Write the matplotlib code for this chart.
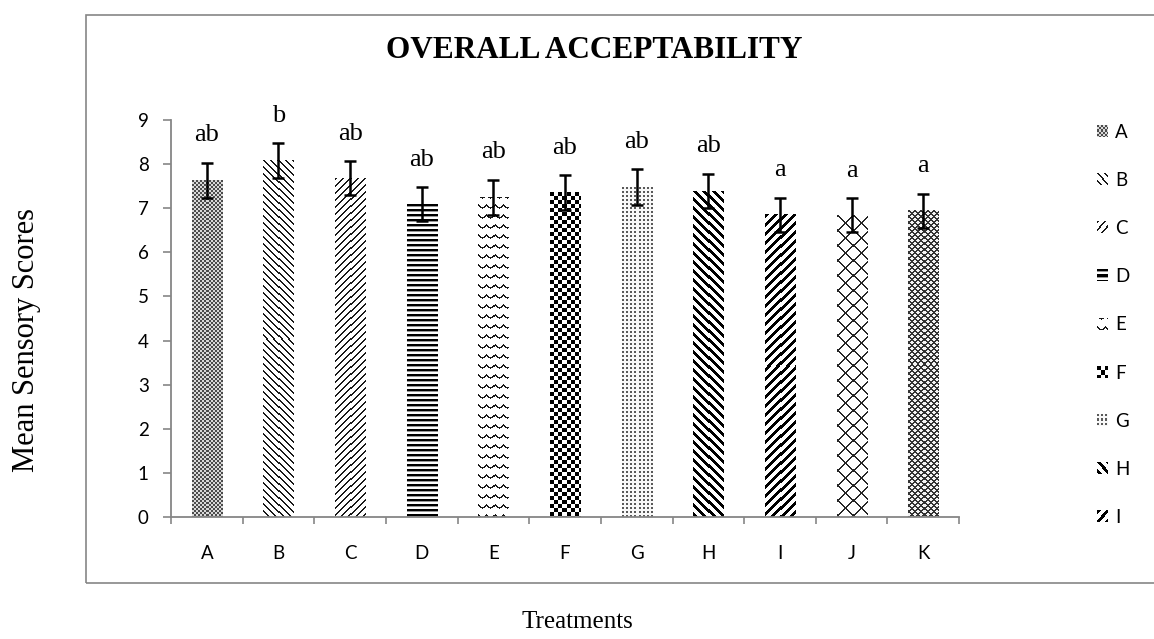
import numpy as np
import matplotlib
matplotlib.use('Agg')
import matplotlib.pyplot as plt
from matplotlib.patches import Rectangle, Patch
from matplotlib.image import BboxImage
from matplotlib.transforms import Bbox, TransformedBbox

# data
treatments = ['A', 'B', 'C', 'D', 'E', 'F', 'G', 'H', 'I', 'J', 'K']
means = [7.63, 8.08, 7.68, 7.09, 7.25, 7.36, 7.48, 7.39, 6.85, 6.84, 6.94]
errors = [0.40, 0.40, 0.39, 0.39, 0.40, 0.39, 0.40, 0.39, 0.39, 0.39, 0.39]
letters = ['ab', 'b', 'ab', 'ab', 'ab', 'ab', 'ab', 'ab', 'a', 'a', 'a']
legend_shown = 9  # Excel legend is cut off after "I"

fills = ['fine_check', 'thin_back', 'thin_fwd', 'hlines', 'wave', 'check',
         'dots', 'thick_back', 'thick_fwd', 'big_lattice', 'small_lattice']

GRID = '#868686'
SERIF = 'Liberation Serif'
SANS = 'Lato'


def texture(kind, h, w):
    r, c = np.mgrid[0:h, 0:w]
    img = np.ones((h, w))
    if kind == 'fine_check':
        img = np.where(((r // 2) + (c // 2)) % 2 == 0, 0.3, 0.85)
    elif kind == 'thin_back':
        img = np.where((c - r) % 7 < 2, 0.1, 1.0)
    elif kind == 'thin_fwd':
        img = np.where((c + r) % 7 < 2, 0.1, 1.0)
    elif kind == 'hlines':
        img = np.where(r % 5 < 2, 0.0, np.where(r % 5 == 2, 0.6, 1.0))
    elif kind == 'wave':
        tri = 3 * np.abs((c % 8) - 4) / 4.0
        img = np.where((r + tri) % 10 < 1.6, 0.1, 1.0)
    elif kind == 'check':
        img = np.where(((r // 4) + (c // 4)) % 2 == 0, 0.0, 1.0)
    elif kind == 'dots':
        img = np.where((r % 4 < 2) & (c % 4 < 2), 0.35, 0.97)
    elif kind == 'thick_back':
        img = np.where((c - r) % 9 < 4, 0.0, 1.0)
    elif kind == 'thick_fwd':
        img = np.where((c + r) % 9 < 4, 0.0, 1.0)
    elif kind == 'big_lattice':
        img = np.where(((c + r) % 15 < 2) | ((c - r) % 15 < 2), 0.15, 1.0)
    elif kind == 'small_lattice':
        img = np.where(((c + r) % 6 < 2) | ((c - r) % 6 < 2), 0.2, 0.95)
    return img


class TexKey(Patch):
    def __init__(self, kind, **kw):
        super().__init__(**kw)
        self.kind = kind


class TexHandler:
    # draws the same texture as the bar inside the legend key box
    def legend_artist(self, legend, orig_handle, fontsize, handlebox):
        x0, y0 = -handlebox.xdescent, -handlebox.ydescent
        w, h = handlebox.width, handlebox.height
        bb = TransformedBbox(Bbox.from_bounds(x0, y0, w, h), handlebox.get_transform())
        im = BboxImage(bb, cmap='gray', interpolation='nearest')
        im.set_data(texture(orig_handle.kind, 11, 11))
        im.set_clim(0, 1)
        handlebox.add_artist(im)
        return im


fig = plt.figure(figsize=(11.54, 6.39), dpi=100)
ax_rect = [0.1482, 0.1909, 0.6829, 0.6213]
ax = fig.add_axes(ax_rect)

x = np.arange(len(treatments))
bar_w = 0.42
ax.bar(x, means, width=bar_w, color='white', edgecolor='none', zorder=1)

# pixel size of one data unit, to lay the fill textures 1:1 on screen
px_x = ax_rect[2] * 1154 / len(treatments)
px_y = ax_rect[3] * 639 / 9
for xi, m, kind in zip(x, means, fills):
    tex = texture(kind, int(round(m * px_y)), int(round(bar_w * px_x)))
    ax.imshow(tex, cmap='gray', vmin=0, vmax=1, interpolation='nearest',
              extent=(xi - bar_w / 2, xi + bar_w / 2, 0, m), aspect='auto', zorder=2)

ax.errorbar(x, means, yerr=errors, fmt='none', ecolor='black',
            elinewidth=1.8, capsize=4.5, capthick=1.8, zorder=3)

for xi, m, e, lab in zip(x, means, errors, letters):
    ax.text(xi, m + e + 0.62, lab, ha='center', va='center',
            fontfamily=SERIF, fontsize=19)

ax.set_xlim(-0.5, len(treatments) - 0.5)
ax.set_ylim(0, 9)
ax.set_yticks(range(10))
ax.set_xticks(np.arange(-0.5, len(treatments), 1))
ax.set_xticklabels([])
ax.set_xticks(x, labels=treatments, minor=True)

for s in ['top', 'right']:
    ax.spines[s].set_visible(False)
for s in ['left', 'bottom']:
    ax.spines[s].set_color(GRID)
    ax.spines[s].set_linewidth(1.3)

ax.tick_params(axis='y', direction='out', length=6, width=1.2, color=GRID,
               labelsize=13.5, pad=10)
ax.tick_params(axis='x', which='major', direction='out', length=5, width=1.2, color=GRID)
ax.tick_params(axis='x', which='minor', length=0, labelsize=13.5, pad=20)
for t in ax.get_yticklabels() + ax.get_xticklabels(minor=True):
    t.set_fontfamily(SANS)

# outer chart-area border (right side runs off the image)
fig.add_artist(Rectangle((86 / 1154, 1 - 583 / 639), 1.0, (583 - 15) / 639,
                         transform=fig.transFigure, fill=False,
                         edgecolor=GRID, linewidth=1.2))

fig.text(594 / 1154, 1 - 50 / 639, 'OVERALL ACCEPTABILITY', ha='center', va='center',
         fontfamily=SERIF, fontweight='bold', fontsize=22.5)
fig.text(27 / 1154, 1 - 340 / 639, 'Mean Sensory Scores', rotation=90,
         ha='center', va='center', fontfamily=SERIF, fontsize=22)
fig.text(577 / 1154, 1 - 622 / 639, 'Treatments', ha='center', va='center',
         fontfamily=SERIF, fontsize=18)

handles = [TexKey(k) for k in fills[:legend_shown]]
fig.legend(handles, treatments[:legend_shown], loc='upper left',
           bbox_to_anchor=(1097 / 1154, 1 - 124 / 639), frameon=False,
           handler_map={TexKey: TexHandler()},
           handlelength=0.55, handleheight=0.55, handletextpad=0.4,
           labelspacing=1.66, borderpad=0, borderaxespad=0,
           prop={'family': SANS, 'size': 13.5})

fig.savefig('out.png', dpi=100)
